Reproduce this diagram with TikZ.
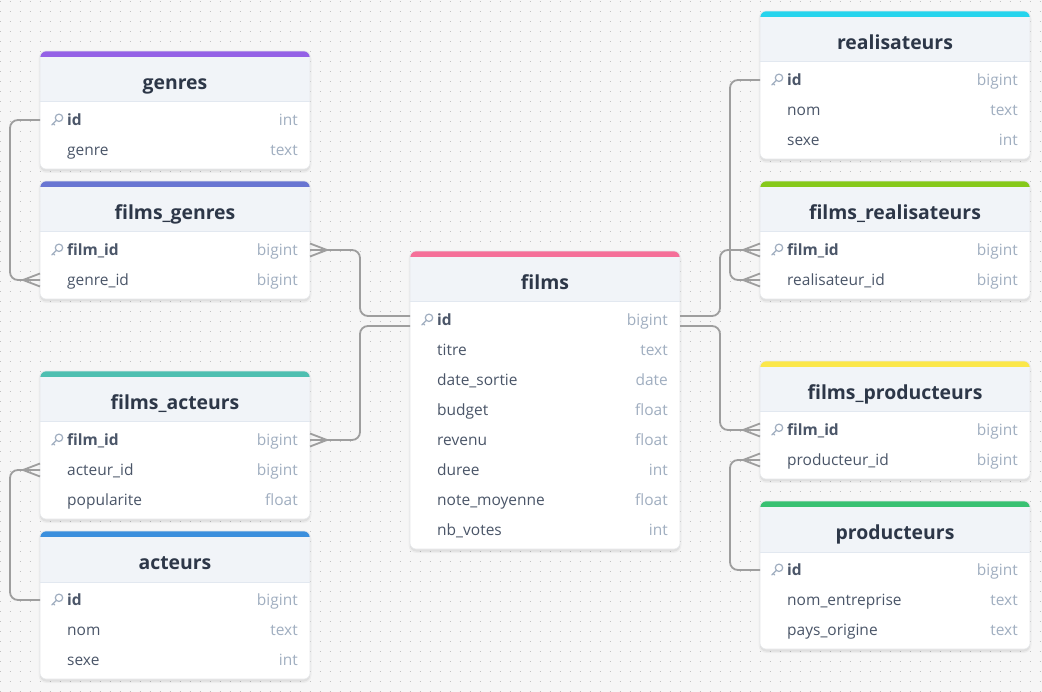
\documentclass[tikz,border=0pt]{standalone}
\usepackage{fontspec}
\setmainfont{Open Sans}
\usetikzlibrary{calc}

\definecolor{bgcol}{HTML}{F6F6F6}
\definecolor{dotcol}{HTML}{C2C2C2}
\definecolor{hdrfill}{HTML}{F1F4F8}
\definecolor{hdrline}{HTML}{E2E8F0}
\definecolor{cardline}{HTML}{E6E8EB}
\definecolor{titlecol}{HTML}{2D3748}
\definecolor{fieldcol}{HTML}{4A5568}
\definecolor{typecol}{HTML}{A0AEC0}
\definecolor{keycol}{HTML}{A0AEC0}
\definecolor{conncol}{HTML}{9E9E9E}
\definecolor{cGenres}{HTML}{9461E6}
\definecolor{cFG}{HTML}{6875D2}
\definecolor{cFilms}{HTML}{F56F99}
\definecolor{cFA}{HTML}{4EBFB1}
\definecolor{cAct}{HTML}{3B8FDD}
\definecolor{cReal}{HTML}{26D4ED}
\definecolor{cFR}{HTML}{86C91A}
\definecolor{cFP}{HTML}{FBE74A}
\definecolor{cProd}{HTML}{38C172}

\tikzset{
  conn/.style={draw=conncol, line width=1.8pt, rounded corners=8pt},
  crowst/.style={draw=conncol, line width=1.8pt},
  card/.style={fill=white, rounded corners=6pt, inner sep=0pt, outer sep=0pt},
  titlest/.style={anchor=base, inner sep=0pt, text=titlecol, font=\fontsize{19.4}{22}\selectfont\bfseries},
  fieldst/.style={anchor=base west, inner sep=0pt, text=fieldcol, font=\fontsize{15.5}{18}\selectfont},
  pkst/.style={anchor=base west, inner sep=0pt, text=fieldcol, font=\fontsize{15.5}{18}\selectfont\bfseries},
  typest/.style={anchor=base east, inner sep=0pt, text=typecol, font=\fontsize{15.5}{18}\selectfont},
  keyst/.style={draw=keycol, line width=1.2pt, line cap=round},
  dotline/.style={draw=dotcol, line width=1pt, dash pattern=on 1pt off 9pt},
}

% #1 name, #2 left x, #3 top y, #4 colour, #5 title, #6 number of rows, #7 rows field/type/pk
\newcommand\dbtable[7]{%
  \pgfmathsetmacro\tblh{58+30*#6}%
  \fill[black, opacity=0.035, rounded corners=8pt] (#2-1.5,#3) rectangle ++(273,\tblh+4);
  \fill[black, opacity=0.06, rounded corners=6pt] (#2,#3+1) rectangle ++(270,\tblh+1.5);
  \node[card, anchor=north west, minimum width=270pt, minimum height=\tblh pt] (#1) at (#2,#3) {};
  \begin{scope}
    \clip[rounded corners=6pt] (#2,#3) rectangle ++(270,\tblh);
    \fill[hdrfill] (#2,#3) rectangle ++(270,51);
    \fill[#4] (#2,#3) rectangle ++(270,6);
    \draw[hdrline, line width=1pt] (#2,#3+51) -- ++(270,0);
  \end{scope}
  \draw[cardline, line width=0.6pt, rounded corners=6pt] (#2,#3) rectangle ++(270,\tblh);
  \node[titlest] (#1-title) at (#2+135,#3+38.5) {#5};
  \foreach \f/\t/\k [count=\i] in {#7} {
    \pgfmathsetmacro\ry{#3+69+30*(\i-1)}
    \coordinate (#1-\i-w) at (#2,\ry);
    \coordinate (#1-\i-e) at (#2+270,\ry);
    \ifnum\k=1
      \draw[keyst] (#2+19,\ry-2.2) circle (3.7);
      \draw[keyst] (#2+16.4,\ry+0.4) -- (#2+11.8,\ry+5);
      \draw[keyst] (#2+13.3,\ry+3.5) -- (#2+14.8,\ry+5);
      \node[pkst] (#1-\i-n) at (#2+27,\ry+5.3) {\f};
    \else
      \node[fieldst] (#1-\i-n) at (#2+27,\ry+5.3) {\f};
    \fi
    \node[typest] (#1-\i-t) at (#2+258,\ry+5.3) {\t};
  }
}

\newcommand\crowL[1]{%
  \draw[crowst] ($(#1)+(-17,0)$) -- ([yshift=6.5pt]#1);
  \draw[crowst] ($(#1)+(-17,0)$) -- ([yshift=-6.5pt]#1);
}
\newcommand\crowR[1]{%
  \draw[crowst] ($(#1)+(17,0)$) -- ([yshift=6.5pt]#1);
  \draw[crowst] ($(#1)+(17,0)$) -- ([yshift=-6.5pt]#1);
}

\begin{document}
\begin{tikzpicture}[x=1pt, y=-1pt]
  \useasboundingbox (0,0) rectangle (1042,692);
  \fill[bgcol] (0,0) rectangle (1042,692);
  \foreach \yy in {1.5,11.5,...,691.5} \draw[dotline] (-0.5,\yy) -- (1042,\yy);

  \dbtable{gen}{40}{51}{cGenres}{genres}{2}{id/int/1, genre/text/0}
  \dbtable{fg}{40}{181}{cFG}{films\_genres}{2}{film\_id/bigint/1, genre\_id/bigint/0}
  \dbtable{fa}{40}{371}{cFA}{films\_acteurs}{3}{film\_id/bigint/1, acteur\_id/bigint/0, popularite/float/0}
  \dbtable{act}{40}{531}{cAct}{acteurs}{3}{id/bigint/1, nom/text/0, sexe/int/0}
  \dbtable{films}{410}{251}{cFilms}{films}{8}{id/bigint/1, titre/text/0, date\_sortie/date/0, budget/float/0, revenu/float/0, duree/int/0, note\_moyenne/float/0, nb\_votes/int/0}
  \dbtable{real}{760}{11}{cReal}{realisateurs}{3}{id/bigint/1, nom/text/0, sexe/int/0}
  \dbtable{fr}{760}{181}{cFR}{films\_realisateurs}{2}{film\_id/bigint/1, realisateur\_id/bigint/0}
  \dbtable{fp}{760}{361}{cFP}{films\_producteurs}{2}{film\_id/bigint/1, producteur\_id/bigint/0}
  \dbtable{prod}{760}{501}{cProd}{producteurs}{3}{id/bigint/1, nom\_entreprise/text/0, pays\_origine/text/0}

  % connectors
  \draw[conn] (gen-1-w) -- ++(-30,0) |- (fg-2-w);
  \crowL{fg-2-w}
  \draw[conn] ([yshift=4pt]films-1-w) -- ++(-50,0) |- (fg-1-e);
  \crowR{fg-1-e}
  \draw[conn] ([yshift=-6pt]films-1-w) -- ++(-50,0) |- (fa-1-e);
  \crowR{fa-1-e}
  \draw[conn] (act-1-w) -- ++(-30,0) |- (fa-2-w);
  \crowL{fa-2-w}
  \draw[conn] (real-1-w) -- ++(-30,0) |- (fr-2-w);
  \crowL{fr-2-w}
  \draw[conn] ([yshift=4pt]films-1-e) -- ++(40,0) |- (fr-1-w);
  \crowL{fr-1-w}
  \draw[conn] ([yshift=-6pt]films-1-e) -- ++(40,0) |- (fp-1-w);
  \crowL{fp-1-w}
  \draw[conn] (prod-1-w) -- ++(-30,0) |- (fp-2-w);
  \crowL{fp-2-w}
\end{tikzpicture}
\end{document}
